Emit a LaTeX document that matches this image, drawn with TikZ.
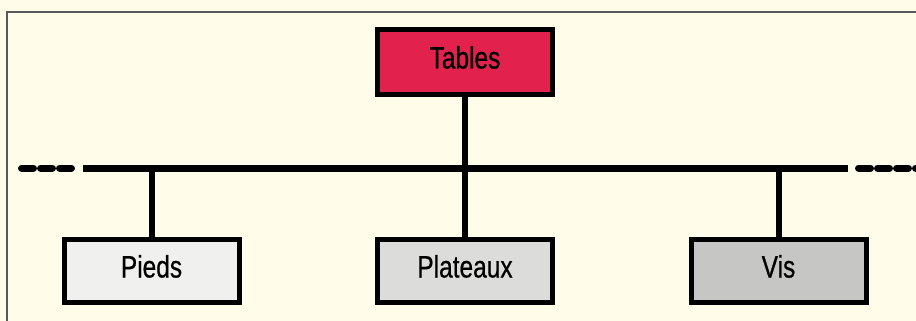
\documentclass[tikz,border=0pt]{standalone}
\usepackage{fontspec}
\setmainfont{Liberation Sans}[FakeStretch=0.79, FakeBold=0.6]
\usetikzlibrary{positioning}

\definecolor{paper}{HTML}{FFFDE9}
\definecolor{tablered}{HTML}{E2224C}
\definecolor{piedsgray}{HTML}{F0F0EE}
\definecolor{plateauxgray}{HTML}{DCDCDA}
\definecolor{visgray}{HTML}{C6C6C4}

\begin{document}
\begin{tikzpicture}[x=1pt,y=-1pt,
		box/.style={draw=black, line width=5pt, minimum width=175pt, minimum height=63pt,
			inner sep=0pt, text height=22pt, text depth=9pt, font=\fontsize{31}{33}\selectfont},
		bus/.style={line width=7pt},
		link/.style={line width=6pt}]
				% Paper and frame
				\fill[paper] (0,0) rectangle (916,321);
				\useasboundingbox (0,0) rectangle (916,321);
				\draw[black!65, line width=1.5pt] (7,321) -- (7,12) -- (916,12);
				% Boxes
				\node[box, fill=tablered, minimum height=65pt] (tables) at (465,62) {Tables};
				\node[box, fill=piedsgray] (pieds) at (151.5,271) {Pieds};
				\node[box, fill=plateauxgray] (plateaux) at (465,271) {Plateaux};
				\node[box, fill=visgray] (vis) at (778.5,271) {Vis};
				% Bus line
				\coordinate (busL) at (83,168);
				\coordinate (busR) at (848,168);
				\coordinate (dashL) at (18,168);
				\coordinate (dashR) at (916,168);
				\draw[bus] (busL) -- (busR);
				\draw[bus, line cap=round, dash pattern=on 12pt off 7pt] ([xshift=3.5pt]dashL) -- ([xshift=-8pt]busL);
				\draw[bus, line cap=round, dash pattern=on 12pt off 7pt] ([xshift=10.5pt]busR) -- ([xshift=3.5pt]dashR);
				% Links
				\draw[link] (tables.south) -- (tables.south |- busL);
				\foreach \n in {pieds,plateaux,vis}
					\draw[link] (\n.north) -- (\n.north |- busL);
			\end{tikzpicture}
\end{document}
